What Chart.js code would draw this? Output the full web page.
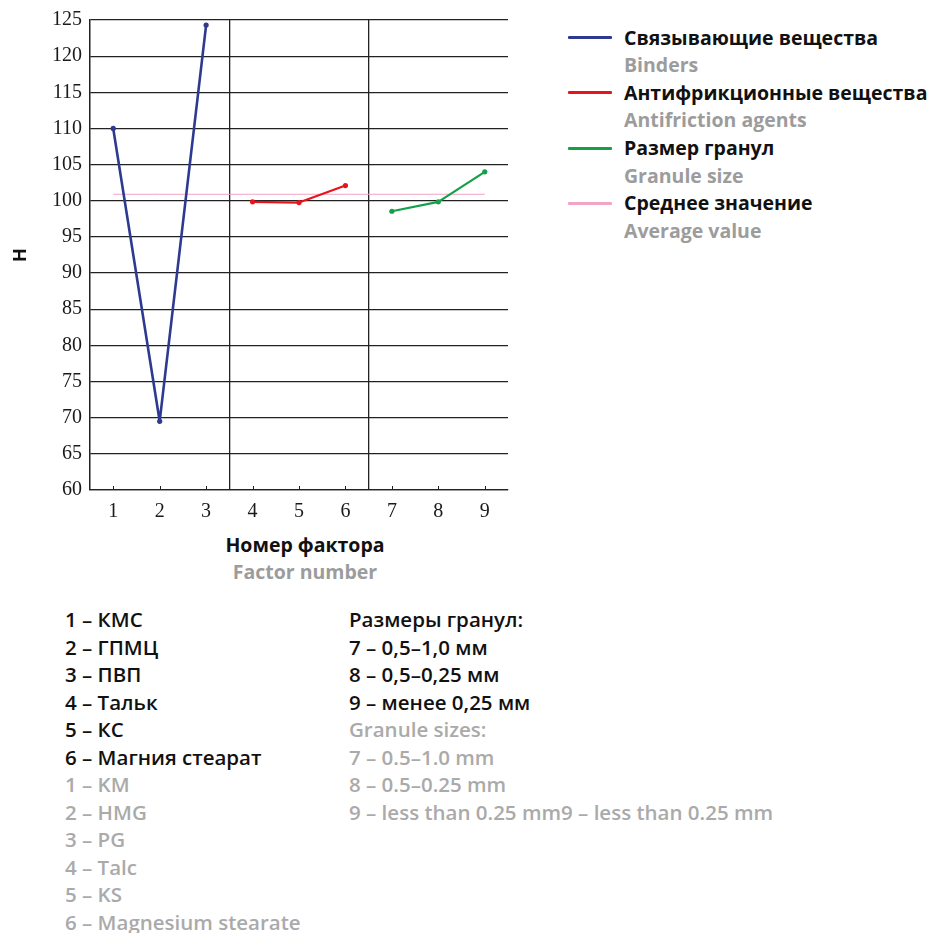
<!DOCTYPE html>
<html lang="ru">
<head>
<meta charset="utf-8">
<script src="https://cdn.jsdelivr.net/npm/chart.js@4/dist/chart.umd.min.js"></script>
<style>
  html, body { margin: 0; padding: 0; background: #fff; }
  body { width: 928px; height: 933px; position: relative; overflow: hidden; font-family: "Open Sans", "Noto Sans", sans-serif; }
  #wrap { position: absolute; left: 0; top: 0; width: 520px; height: 530px; }
  .t { position: absolute; white-space: nowrap; line-height: 1; }
  .ru { color: #111; font-weight: 700; }
  .en { color: #9c9c9c; font-weight: 700; }
  .xt { font-size: 19.5px; transform: translateX(-50%); }
  .lg { font-size: 19.5px; }
  .sw { position: absolute; width: 44px; height: 3px; border-radius: 1px; }
  .nt { font-size: 20.5px; font-weight: 600; }
  .nt.ru { color: #111; }
  .nt.en { color: #aaa; }
</style>
</head>
<body>
<div id="wrap"><canvas id="c" width="520" height="530"></canvas></div>
<div id="labels"></div>
<script>
// Factor numbers on the x axis
const factorLabels = ['1', '2', '3', '4', '5', '6', '7', '8', '9'];

// Response H for each factor group
const bindersValues      = [110.0, 69.5, 124.3, null, null, null, null, null, null];
const antifrictionValues = [null, null, null, 99.85, 99.75, 102.1, null, null, null];
const granuleValues      = [null, null, null, null, null, null, 98.55, 99.85, 104.0];
const averageValue = 100.9;

// Y axis range and step
const yMin = 60, yMax = 125, yStep = 5;

// Legend entries: Russian / English
const legendRu = ['Связывающие вещества', 'Антифрикционные вещества', 'Размер гранул', 'Среднее значение'];
const legendEn = ['Binders', 'Antifriction agents', 'Granule size', 'Average value'];
const seriesColors = ['#2e3a8f', '#e8141c', '#14a048', '#f3a3c6'];

// Factor descriptions
const notesLeftRu = ['1 – КМС', '2 – ГПМЦ', '3 – ПВП', '4 – Тальк', '5 – КС', '6 – Магния стеарат'];
const notesLeftEn = ['1 – KM', '2 – HMG', '3 – PG', '4 – Talc', '5 – KS', '6 – Magnesium stearate'];
const notesRightRu = ['Размеры гранул:', '7 – 0,5–1,0 мм', '8 – 0,5–0,25 мм', '9 – менее 0,25 мм'];
const notesRightEn = ['Granule sizes:', '7 – 0.5–1.0 mm', '8 – 0.5–0.25 mm', '9 – less than 0.25 mm9 – less than 0.25 mm'];

const averageLine = factorLabels.map(() => averageValue);
const gridDark = '#222';

// Small inward tick marks along the bottom axis
const innerTicks = {
  id: 'innerTicks',
  afterDraw(chart) {
    const x = chart.scales.x, ctx = chart.ctx, b = chart.chartArea.bottom;
    ctx.save();
    ctx.strokeStyle = gridDark;
    ctx.lineWidth = 1;
    x.ticks.forEach((t, i) => {
      const px = Math.round(x.getPixelForTick(i)) + 0.5;
      ctx.beginPath();
      ctx.moveTo(px, b);
      ctx.lineTo(px, b - 4);
      ctx.stroke();
    });
    ctx.restore();
  }
};

function lineSet(label, data, color, width, radius) {
  return {
    label, data,
    borderColor: color, backgroundColor: color,
    borderWidth: width, pointRadius: radius, pointHoverRadius: radius,
    pointBorderWidth: 0, spanGaps: false, tension: 0,
    borderJoinStyle: 'round', borderCapStyle: 'round'
  };
}

new Chart(document.getElementById('c'), {
  type: 'line',
  data: {
    labels: factorLabels,
    datasets: [
      Object.assign(lineSet('Среднее значение', averageLine, seriesColors[3], 1, 0), { order: 4, borderCapStyle: 'butt' }),
      Object.assign(lineSet('Связывающие вещества', bindersValues, seriesColors[0], 2.6, 2.6), { order: 1 }),
      Object.assign(lineSet('Антифрикционные вещества', antifrictionValues, seriesColors[1], 2.2, 2.6), { order: 2 }),
      Object.assign(lineSet('Размер гранул', granuleValues, seriesColors[2], 2.2, 2.6), { order: 3 })
    ]
  },
  options: {
    responsive: false,
    animation: false,
    layout: { padding: { top: 7, right: 12, left: 0, bottom: 0 } },
    plugins: { legend: { display: false }, tooltip: { enabled: false } },
    scales: {
      x: {
        type: 'category',
        offset: true,
        grid: {
          offset: true,
          drawTicks: false,
          lineWidth: 1.3,
          color: (ctx) => [0, 3, 6, 9].includes(ctx.index) ? gridDark : 'rgba(0,0,0,0)'
        },
        border: { display: true, color: gridDark, width: 1.3 },
        ticks: { color: '#1a1a1a', padding: 10, font: { family: '"Liberation Serif", "DejaVu Serif", serif', size: 20 } },
        afterFit(scale) { scale.height = 40; }
      },
      y: {
        min: yMin, max: yMax,
        grid: { drawTicks: false, lineWidth: 1.3, color: gridDark },
        border: { display: true, color: gridDark, width: 1.3 },
        ticks: { stepSize: yStep, color: '#1a1a1a', padding: 8, font: { family: '"Liberation Serif", "DejaVu Serif", serif', size: 20 } },
        title: { display: true, text: 'Н', color: '#111', padding: { top: 10, bottom: 0 }, font: { family: '"Open Sans", sans-serif', size: 18, weight: 'bold' } },
        afterFit(scale) { scale.width = 90; }
      }
    }
  },
  plugins: [innerTicks]
});

// Text blocks around the chart
const host = document.getElementById('labels');
function addText(cls, text, x, y, style) {
  const d = document.createElement('div');
  d.className = 't ' + cls;
  d.textContent = text;
  d.style.left = x + 'px';
  d.style.top = y + 'px';
  if (style) Object.assign(d.style, style);
  host.appendChild(d);
  return d;
}

// Axis title under the x axis
addText('ru xt', 'Номер фактора', 305, 535);
addText('en xt', 'Factor number', 305, 562);

// Legend with swatches
legendRu.forEach((txt, i) => {
  const y = 27.5 + i * 55.3;
  const sw = document.createElement('div');
  sw.className = 'sw';
  sw.style.left = '568px';
  sw.style.top = (y + 8.5) + 'px';
  sw.style.background = seriesColors[i];
  host.appendChild(sw);
  addText('ru lg', txt, 624, y);
  addText('en lg', legendEn[i], 624, y + 27.6);
});

// Factor descriptions
const rowH = 27.5, top0 = 609;
notesLeftRu.concat(notesLeftEn).forEach((txt, i) => {
  addText((i < notesLeftRu.length ? 'ru' : 'en') + ' nt', txt, 65, top0 + i * rowH);
});
notesRightRu.concat(notesRightEn).forEach((txt, i) => {
  addText((i < notesRightRu.length ? 'ru' : 'en') + ' nt', txt, 349, top0 + i * rowH);
});
</script>
</body>
</html>
